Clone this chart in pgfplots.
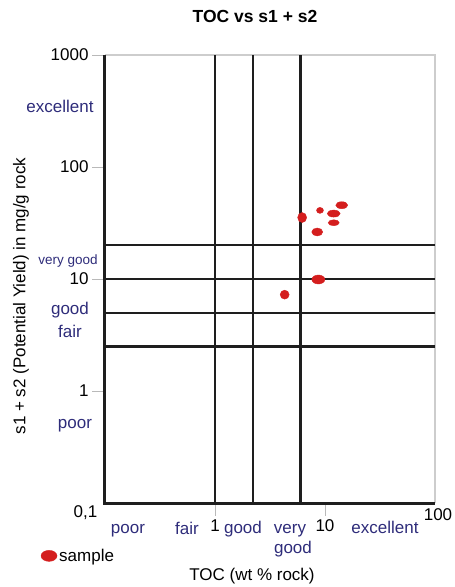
\documentclass[border=0pt]{standalone}
\usepackage{fontspec}
\setmainfont{Liberation Sans}
\usepackage{pgfplots}
\usepackage{pgfplotstable}
\pgfplotsset{compat=1.18}
\definecolor{navy}{RGB}{46,44,122}
\definecolor{ptred}{RGB}{212,30,30}
\definecolor{bordergray}{RGB}{205,205,205}
\definecolor{gridblack}{RGB}{30,30,30}
\newcommand\lf{\fontsize{17}{20}\selectfont}

\pgfplotstableread{
x y rx ry
14.2 45.6 6.0 3.5
9.0 41.0 3.5 3.0
12.0 38.4 6.5 3.5
6.2 35.4 4.5 5.0
12.0 31.8 5.5 3.0
8.5 26.3 5.5 4.0
8.7 9.9 6.5 4.5
4.3 7.25 4.5 4.5
}\samples

\begin{document}
\begin{tikzpicture}
\path[use as bounding box] (0pt,0pt) rectangle (455pt,-587pt);
\begin{axis}[
  at={(105pt,-503pt)}, anchor=south west,
  width=330pt, height=448pt, scale only axis,
  xmode=log, ymode=log,
  xmin=0.1, xmax=100, ymin=0.1, ymax=1000,
  axis line style={draw=none},
  xtick={1,10}, xticklabels={1,10},
  ytick={1,10,100,1000}, yticklabels={1,10,100,1000},
  tick pos=left,
  tick align=outside, major tick length=13pt, minor tick length=0pt,
  tick style={draw=gray!55, line width=0.9pt},
  tick label style={font=\lf},
  clip=false,
  legend style={at={(axis description cs:-0.195,-0.118)}, anchor=west,
    draw=none, fill=none, inner sep=0pt, font=\lf},
  legend cell align=left,
]
% light border (top, right)
\draw[bordergray, line width=2pt] (rel axis cs:0,1) -- (rel axis cs:1,1) -- (rel axis cs:1,0);
% classification lines
\addplot[forget plot, gridblack, line width=2.3pt] coordinates {(0.1,20) (100,20)};
\addplot[forget plot, gridblack, line width=2.3pt] coordinates {(0.1,10) (100,10)};
\addplot[forget plot, gridblack, line width=2.3pt] coordinates {(0.1,5) (100,5)};
\addplot[forget plot, gridblack, line width=2.3pt] coordinates {(0.1,2.5) (100,2.5)};
\addplot[forget plot, gridblack, line width=2.3pt] coordinates {(1,0.1) (1,1000)};
\addplot[forget plot, gridblack, line width=2.3pt] coordinates {(2.2,0.1) (2.2,1000)};
\addplot[forget plot, gridblack, line width=2.3pt] coordinates {(6,0.1) (6,1000)};
% main axes
\draw[gridblack, line width=3pt] (rel axis cs:0,1) -- (rel axis cs:0,0) -- (rel axis cs:1,0);
% samples
\addplot[forget plot, only marks, scatter, mark=*, mark size=1pt,
  scatter/use mapped color={draw=ptred, fill=ptred},
  visualization depends on={\thisrow{rx} \as \rx},
  visualization depends on={\thisrow{ry} \as \ry},
  scatter/@pre marker code/.append style={/tikz/xscale=\rx,/tikz/yscale=\ry}]
  table[x=x, y=y] {\samples};
\addlegendimage{legend image code/.code={\fill[ptred] (8pt,0pt) ellipse (8pt and 5.5pt);}}
\addlegendentry{sample}
\end{axis}

\begin{scope}[x=1pt,y=1pt]
\node[font=\bfseries\fontsize{17.5}{20}\selectfont] at (255,-16) {TOC vs s1 + s2};
\node[font=\lf, anchor=base] at (85.5,-517) {0,1};
\node[font=\lf, anchor=base] at (438,-520) {100};
% x categories
\node[font=\lf, text=navy, anchor=base] at (128,-533) {poor};
\node[font=\lf, text=navy, anchor=base] at (187,-534) {fair};
\node[font=\lf, text=navy, anchor=base] at (243,-533) {good};
\node[font=\lf, text=navy, anchor=base] at (290,-533) {very};
\node[font=\lf, text=navy, anchor=base] at (293,-553) {good};
\node[font=\lf, text=navy, anchor=base] at (385,-533) {excellent};
% y categories
\node[font=\lf, text=navy, anchor=base] at (60,-112) {excellent};
\node[font=\fontsize{13.5}{16}\selectfont, text=navy, anchor=base] at (68,-264) {very good};
\node[font=\lf, text=navy, anchor=base] at (70,-314) {good};
\node[font=\lf, text=navy, anchor=base] at (70,-337) {fair};
\node[font=\lf, text=navy, anchor=base] at (75,-428) {poor};
% axis labels
\node[font=\lf, anchor=base] at (252,-580) {TOC (wt \% rock)};
\node[font=\lf, rotate=90] at (21,-296) {s1 + s2 (Potential Yield) in mg/g rock};
\end{scope}
\end{tikzpicture}
\end{document}
